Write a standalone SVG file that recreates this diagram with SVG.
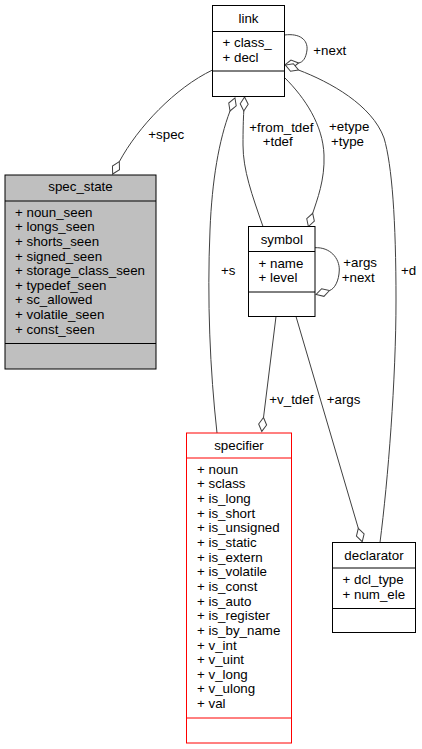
<svg xmlns="http://www.w3.org/2000/svg" width="422" height="749" viewBox="0 0 422 749">
<style>
text{font-family:"Liberation Sans",Arial,sans-serif;font-size:13.33px;fill:#000}
.t{text-anchor:middle}
.box{fill:#fff;stroke:#000;stroke-width:1}
.gray{fill:#bfbfbf}
.red{stroke:#ff0000}
.sep{stroke:#000;stroke-width:1}
.rsep{stroke:#ff0000;stroke-width:1}
.e{fill:none;stroke:#404040;stroke-width:1;marker-end:url(#od)}
</style>
<defs>
<marker id="od" markerUnits="userSpaceOnUse" markerWidth="16" markerHeight="10" refX="0" refY="0" orient="auto" overflow="visible">
<path d="M0,0 L7,-4 L14,0 L7,4 Z" fill="#fff" stroke="#404040" stroke-width="1"/>
</marker>
</defs>
<g id="edges">
<path class="e" d="M212.5,70 C175,88 138,127 119.3,161.7"/>
<path class="e" d="M217,433 C210,370 207,300 210,230 C212,180 219,140 230,111"/>
<path class="e" d="M263,226.5 C252,195 243,170 243,145 C243,130 243.3,120 243.8,111"/>
<path class="e" d="M285,78 C305,98 323,125 324,155 C325,180 317,200 312.7,213.3"/>
<path class="e" d="M284.5,35 C300,33 308,40 307,50 C306,58 303,62.3 298.5,63"/>
<path class="e" d="M380,542.5 C388,480 396,380 396,300 C396,220 392,165 384,138 C372,105 330,82 298.5,70"/>
<path class="e" d="M315,247.7 C330,247 339.5,258 339.3,270 C339,281 334.5,289 329.5,290.5"/>
<path class="e" d="M276,316.5 L263.5,417.5"/>
<path class="e" d="M296,316.5 L358.3,528.3"/>
<text x="148.3" y="139">+spec</text>
<text x="313.3" y="55">+next</text>
<text x="249.3" y="131.5">+from_tdef</text>
<text x="262.7" y="146.3">+tdef</text>
<text x="329" y="131">+etype</text>
<text x="331" y="146">+type</text>
<text x="221" y="275">+s</text>
<text x="401" y="275">+d</text>
<text x="343.3" y="267.3">+args</text>
<text x="341.7" y="282">+next</text>
<text x="269.3" y="404">+v_tdef</text>
<text x="326.7" y="404">+args</text>
</g>
<g id="link">
<rect class="box" x="212.5" y="5.5" width="72" height="91"/>
<line class="sep" x1="212.5" y1="31.5" x2="284.5" y2="31.5"/>
<line class="sep" x1="212.5" y1="71" x2="284.5" y2="71"/>
<text class="t" x="248.5" y="22.5">link</text>
<text x="222.5" y="47">+ class_</text>
<text x="222.5" y="61.7">+ decl</text>
</g>
<g id="spec_state">
<rect class="box gray" x="5" y="175" width="151" height="194"/>
<line class="sep" x1="5" y1="201" x2="156" y2="201"/>
<line class="sep" x1="5" y1="343.5" x2="156" y2="343.5"/>
<text class="t" x="80.5" y="191">spec_state</text>
<text x="15" y="216.7">+ noun_seen</text>
<text x="15" y="231.3">+ longs_seen</text>
<text x="15" y="245.9">+ shorts_seen</text>
<text x="15" y="260.5">+ signed_seen</text>
<text x="15" y="275.1">+ storage_class_seen</text>
<text x="15" y="289.7">+ typedef_seen</text>
<text x="15" y="304.3">+ sc_allowed</text>
<text x="15" y="318.9">+ volatile_seen</text>
<text x="15" y="333.5">+ const_seen</text>
</g>
<g id="symbol">
<rect class="box" x="248.5" y="226.5" width="66.5" height="90"/>
<line class="sep" x1="248.5" y1="251.5" x2="315" y2="251.5"/>
<line class="sep" x1="248.5" y1="292" x2="315" y2="292"/>
<text class="t" x="281.75" y="243.5">symbol</text>
<text x="258.5" y="267.5">+ name</text>
<text x="258.5" y="282">+ level</text>
</g>
<g id="specifier">
<rect class="box red" x="186.5" y="433" width="105" height="310"/>
<line class="rsep" x1="186.5" y1="458" x2="291.5" y2="458"/>
<line class="rsep" x1="186.5" y1="718" x2="291.5" y2="718"/>
<text class="t" x="239" y="450">specifier</text>
<text x="197" y="473.7">+ noun</text>
<text x="197" y="488.35">+ sclass</text>
<text x="197" y="503">+ is_long</text>
<text x="197" y="517.65">+ is_short</text>
<text x="197" y="532.3">+ is_unsigned</text>
<text x="197" y="546.95">+ is_static</text>
<text x="197" y="561.6">+ is_extern</text>
<text x="197" y="576.25">+ is_volatile</text>
<text x="197" y="590.9">+ is_const</text>
<text x="197" y="605.55">+ is_auto</text>
<text x="197" y="620.2">+ is_register</text>
<text x="197" y="634.85">+ is_by_name</text>
<text x="197" y="649.5">+ v_int</text>
<text x="197" y="664.15">+ v_uint</text>
<text x="197" y="678.8">+ v_long</text>
<text x="197" y="693.45">+ v_ulong</text>
<text x="197" y="708.1">+ val</text>
</g>
<g id="declarator">
<rect class="box" x="332.5" y="542.5" width="83" height="90"/>
<line class="sep" x1="332.5" y1="568" x2="415.5" y2="568"/>
<line class="sep" x1="332.5" y1="608.5" x2="415.5" y2="608.5"/>
<text class="t" x="374" y="559.5">declarator</text>
<text x="342.5" y="584">+ dcl_type</text>
<text x="342.5" y="598.5">+ num_ele</text>
</g>
</svg>
